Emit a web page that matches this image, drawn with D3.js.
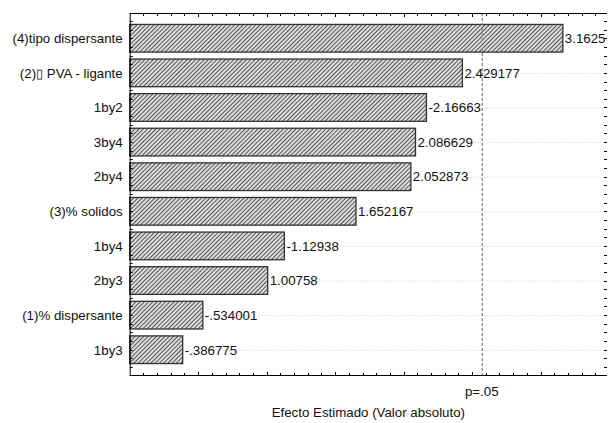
<!DOCTYPE html>
<html>
<head>
<meta charset="utf-8">
<script src="https://cdn.jsdelivr.net/npm/d3@7/dist/d3.min.js"></script>
<style>
  html, body { margin: 0; padding: 0; background: #fff; }
  svg { display: block; }
  text { font-family: "Liberation Sans", Arial, sans-serif; font-size: 13.3px; fill: #111; }
</style>
</head>
<body>
<svg id="chart" width="608" height="423"></svg>
<script>
// Pareto chart of standardized effects
const categories = [
  "(4)tipo dispersante",
  "(2)\u25AF PVA - ligante",
  "1by2",
  "3by4",
  "2by4",
  "(3)% solidos",
  "1by4",
  "2by3",
  "(1)% dispersante",
  "1by3"
];
const effects = [3.1625, 2.429177, -2.16663, 2.086629, 2.052873, 1.652167, -1.12938, 1.00758, -0.534001, -0.386775];
const effectLabels = ["3.1625", "2.429177", "-2.16663", "2.086629", "2.052873", "1.652167", "-1.12938", "1.00758", "-.534001", "-.386775"];
const pCritical = 2.5706;
const pLabel = "p=.05";
const xTitle = "Efecto Estimado (Valor absoluto)";

const svg = d3.select("#chart");
const plotLeft = 129.7, plotRight = 607, plotTop = 13, plotBottom = 375;

const x = d3.scaleLinear().domain([0, 3.485]).range([plotLeft, plotRight]);
const y = d3.scaleBand().domain(categories).range([plotTop, plotBottom])
  .paddingInner(0.2).paddingOuter(0.33);

// diagonal hatch fill for bars
const defs = svg.append("defs");
const pat = defs.append("pattern")
  .attr("id", "hatch").attr("patternUnits", "userSpaceOnUse")
  .attr("width", 3).attr("height", 3)
  .attr("patternTransform", "rotate(45)");
pat.append("rect").attr("width", 3).attr("height", 3).attr("fill", "#dcdcdc");
pat.append("line").attr("x1", 0).attr("y1", 0).attr("x2", 0).attr("y2", 3)
  .attr("stroke", "#2a2a2a").attr("stroke-width", 1.5);

// faint dotted guide lines at each bar
svg.append("g").selectAll("line").data(categories).join("line")
  .attr("x1", plotLeft).attr("x2", plotRight)
  .attr("y1", d => y(d) + y.bandwidth() / 2 + 0.5)
  .attr("y2", d => y(d) + y.bandwidth() / 2 + 0.5)
  .attr("stroke", "#cfcfcf").attr("stroke-width", 1).attr("stroke-dasharray", "1,2");

// bars (absolute effect)
svg.append("g").selectAll("rect").data(categories).join("rect")
  .attr("x", plotLeft)
  .attr("y", d => y(d))
  .attr("width", (d, i) => x(Math.abs(effects[i])) - plotLeft)
  .attr("height", y.bandwidth())
  .attr("fill", "url(#hatch)")
  .attr("stroke", "#333").attr("stroke-width", 1.3);

// significance line
svg.append("line")
  .attr("x1", x(pCritical) + 0.5).attr("x2", x(pCritical) + 0.5)
  .attr("y1", plotTop).attr("y2", plotBottom)
  .attr("stroke", "#8a8a8a").attr("stroke-width", 1.3).attr("stroke-dasharray", "3,2");

// value labels
svg.append("g").selectAll("text").data(categories).join("text")
  .attr("x", (d, i) => x(Math.abs(effects[i])) + 2)
  .attr("y", d => y(d) + y.bandwidth() / 2)
  .attr("dy", "0.36em")
  .text((d, i) => effectLabels[i]);

// category labels
svg.append("g").selectAll("text").data(categories).join("text")
  .attr("x", plotLeft - 7)
  .attr("y", d => y(d) + y.bandwidth() / 2)
  .attr("dy", "0.36em")
  .attr("text-anchor", "end")
  .text(d => d);

// frame: top, bottom, left axis lines
const frame = svg.append("g").attr("stroke", "#000").attr("stroke-width", 1);
frame.append("line").attr("x1", plotLeft).attr("x2", plotRight).attr("y1", plotTop + 0.5).attr("y2", plotTop + 0.5);
frame.append("line").attr("x1", plotLeft).attr("x2", plotRight).attr("y1", plotBottom + 0.5).attr("y2", plotBottom + 0.5);
frame.append("line").attr("x1", plotLeft + 0.5).attr("x2", plotLeft + 0.5).attr("y1", plotTop).attr("y2", plotBottom + 1);

// inward ticks along the x axis (top and bottom)
const isHalf = d => Math.abs(d * 2 - Math.round(d * 2)) < 1e-6;
const xt = x.ticks(35).filter(v => v > 0);
frame.append("g").selectAll("line").data(xt).join("line")
  .attr("x1", d => Math.round(x(d)) + 0.5).attr("x2", d => Math.round(x(d)) + 0.5)
  .attr("y1", plotTop).attr("y2", d => plotTop + (isHalf(d) ? 4 : 3));
frame.append("g").selectAll("line").data(xt).join("line")
  .attr("x1", d => Math.round(x(d)) + 0.5).attr("x2", d => Math.round(x(d)) + 0.5)
  .attr("y1", plotBottom + 1).attr("y2", d => plotBottom + 1 - (isHalf(d) ? 4 : 3));

// inward minor ticks along left and right edges, quarter steps of the band
const step = y.step();
const c0 = y(categories[0]) + y.bandwidth() / 2;
const yt = d3.range(-4, categories.length * 4 + 2).map(k => c0 + k * step / 4)
  .filter(v => v > plotTop + 2 && v < plotBottom - 2);
frame.append("g").selectAll("line").data(yt).join("line")
  .attr("x1", plotLeft).attr("x2", plotLeft + 3)
  .attr("y1", d => Math.round(d) + 0.5).attr("y2", d => Math.round(d) + 0.5);
frame.append("g").selectAll("line").data(yt).join("line")
  .attr("x1", plotRight - 3).attr("x2", plotRight)
  .attr("y1", d => Math.round(d) + 0.5).attr("y2", d => Math.round(d) + 0.5);

// p=.05 label and axis title
svg.append("text").attr("x", x(pCritical)).attr("y", 396)
  .attr("text-anchor", "middle").text(pLabel);
svg.append("text").attr("x", (plotLeft + plotRight) / 2).attr("y", 417)
  .attr("text-anchor", "middle").text(xTitle);
</script>
</body>
</html>
